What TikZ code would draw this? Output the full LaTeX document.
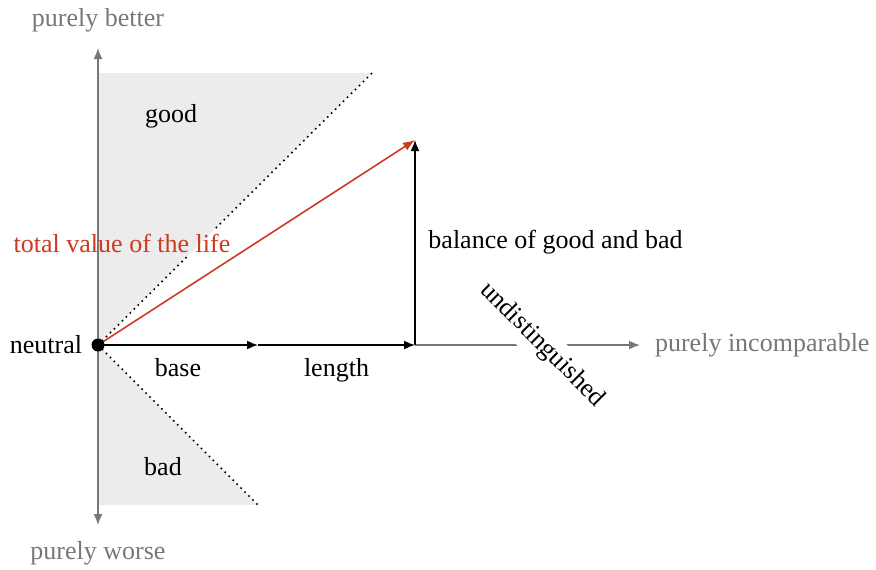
\documentclass[tikz,border=0pt]{standalone}
\usepackage{fontspec}
\setmainfont{Liberation Serif}
\usepackage{xcolor}
\usetikzlibrary{arrows.meta, positioning}
\definecolor{axisgray}{HTML}{777777}
\definecolor{regionbg}{HTML}{ECECEC}
\definecolor{lifered}{HTML}{CC3A1F}

\begin{document}
\begin{tikzpicture}[
  x=0.5pt, y=-0.5pt,
  font=\fontsize{13}{15}\selectfont,
  region/.style={fill=regionbg, draw=none},
  border/.style={dotted, thick},
  axis/.style={-{Latex[length=5.5pt, width=4.5pt]}, thick, color=axisgray},
  vec/.style={-{Latex[length=5.5pt, width=4.5pt]}, thick, color=black},
  redvec/.style={-{Latex[length=6pt, width=4.5pt]}, thick, color=lifered},
  dot/.style={circle, fill=black, inner sep=0pt, minimum size=6.5pt},
  graylabel/.style={text=axisgray},
  lbl/.style={text=black}
]
  \useasboundingbox (0,0) rectangle (876,569);

  % points
  \coordinate (origin) at (98,345);
  \coordinate (top)    at (98,48);
  \coordinate (bottom) at (98,525);
  \coordinate (goodl)  at (98,73);
  \coordinate (goodr)  at (372,73);
  \coordinate (badl)   at (98,505);
  \coordinate (badr)   at (258,505);
  \coordinate (half)   at (258,345);
  \coordinate (corner) at (415,345);
  \coordinate (tip)    at (415,140);
  \coordinate (right)  at (640,345);
  \path (origin) -- (goodr) coordinate[pos=0.33] (gapa) coordinate[pos=0.43] (gapb);

  % regions
  \fill[region] (origin) -- (goodl) -- (goodr) -- cycle;
  \fill[region] (origin) -- (badl) -- (badr) -- cycle;
  \draw[border] (origin) -- (gapa);
  \draw[border] (gapb) -- (goodr);
  \draw[border] (origin) -- (badr);

  % axes
  \draw[axis] (origin) -- (top);
  \draw[axis] (origin) -- (bottom);
  \draw[axis] (corner) -- (right);
  \node[lbl, fill=white, rotate=-45, inner sep=3pt] (undist) at (542,345) {undistinguished};

  \node[graylabel] (better) at (98,20) {purely better};
  \node[graylabel] (worse)  at (98,553) {purely worse};
  \node[graylabel, right=4pt of right] (incomp) {purely incomparable};

  % vectors
  \draw[vec] (origin) -- node[lbl, below=3pt] (base) {base} (half);
  \draw[vec] (half) -- node[lbl, below=3pt] (length) {length} (corner);
  \draw[vec] (corner) -- node[lbl, right=3pt] (balance) {balance of good and bad} (tip);
  \draw[redvec] (origin) -- (tip);

  \node[dot] (neutral) at (origin) {};
  \node[lbl, left=1pt of neutral] (neutrallabel) {neutral};
  \node[text=lifered] (total) at (122,243) {total value of the life};
  \node[lbl] (good) at (171,116) {good};
  \node[lbl] (bad)  at (163,467) {bad};
\end{tikzpicture}
\end{document}
